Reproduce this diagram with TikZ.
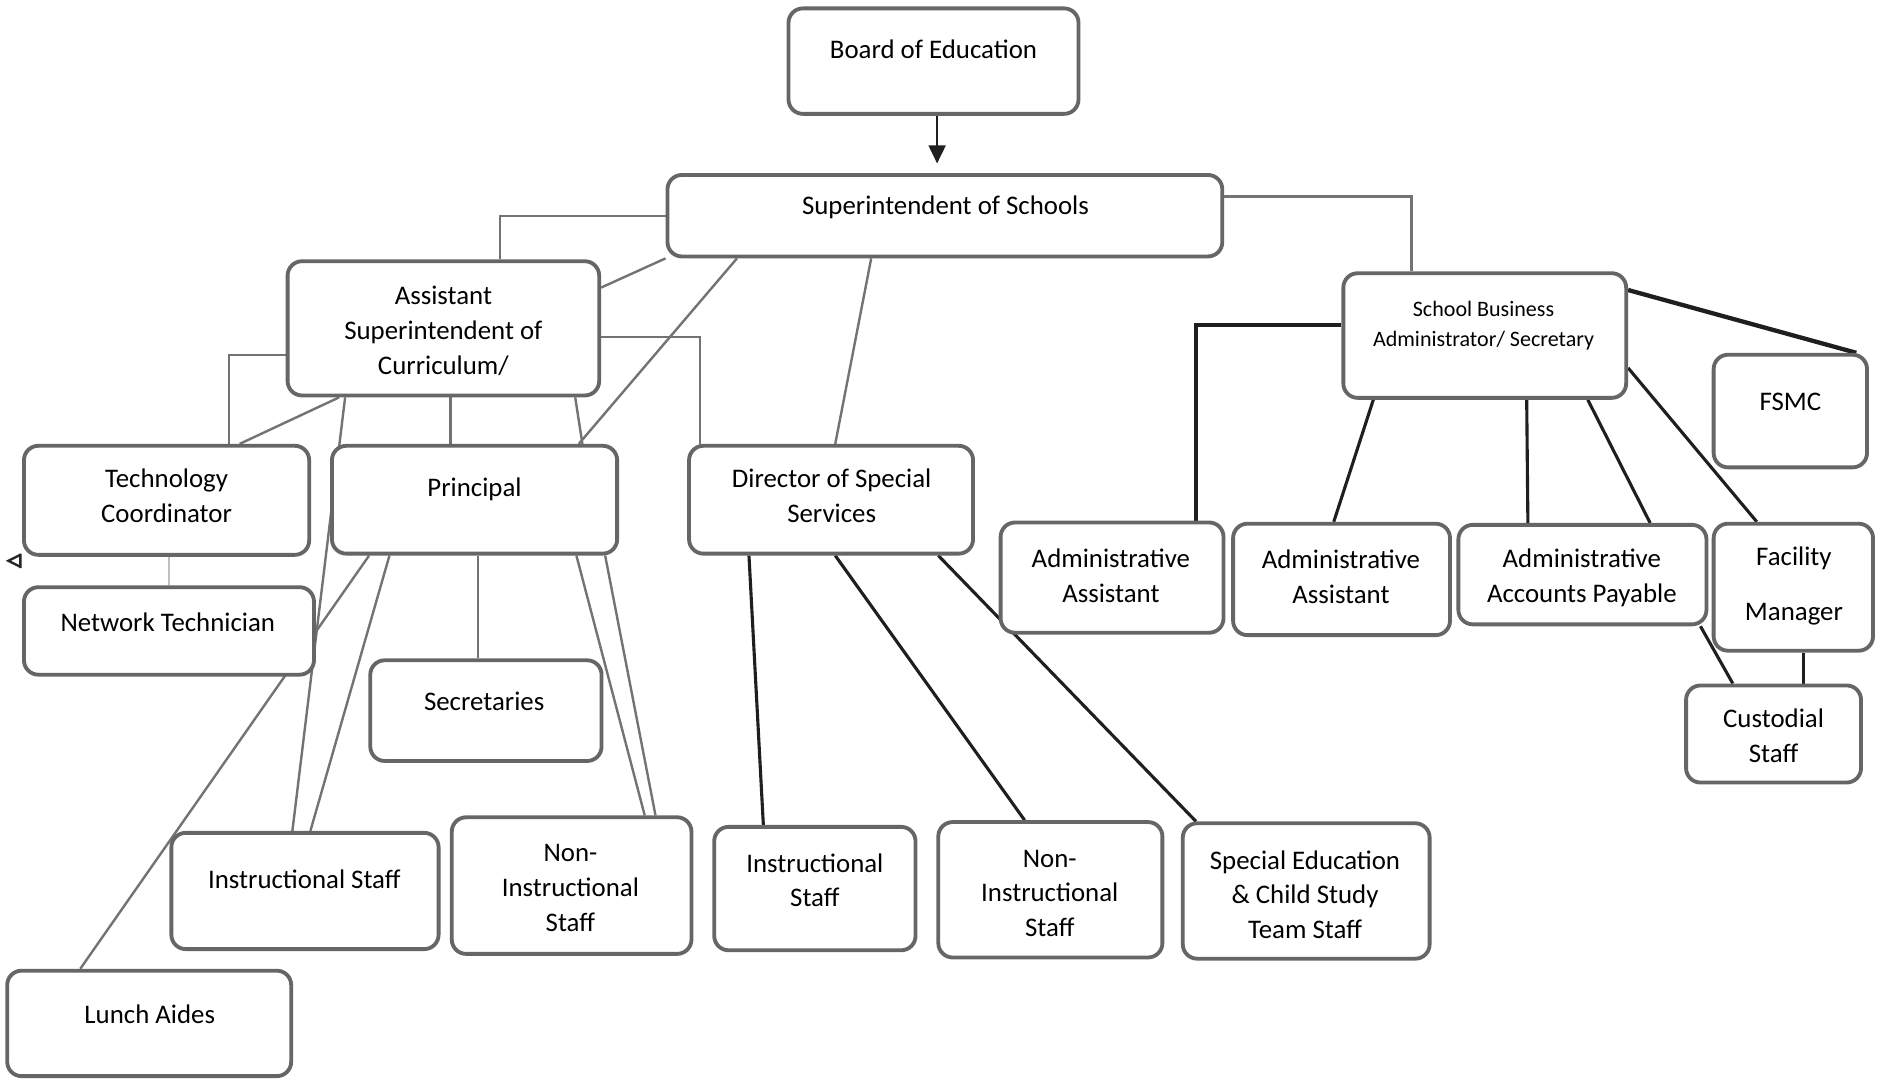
\documentclass[tikz,border=0pt]{standalone}
\usepackage{fontspec}
\setmainfont{Carlito}
\usetikzlibrary{arrows.meta}
\pgfdeclarelayer{bg}
\pgfsetlayers{bg,main}
\tikzset{
 box/.style={draw=black!60, line width=1.6pt, rounded corners=6pt, fill=white, inner sep=0pt},
 lbl/.style={align=center, font=\fontsize{11.2}{14.5}\selectfont, inner sep=0pt, text=black},
 smalltxt/.style={font=\fontsize{9.2}{12.5}\selectfont},
 gline/.style={draw=black!55, line width=1pt},
 kline/.style={draw=black!88, line width=1.3pt},
 lgline/.style={draw=black!25, line width=0.8pt},
}
\newcommand\mybox[5]{\node[box,minimum width={(#4-#2)*0.5pt},minimum height={(#5-#3)*0.5pt}] (#1) at ({(#2+#4)/2},{(#3+#5)/2}) {};}
\begin{document}
\begin{tikzpicture}[x=0.5pt,y=-0.5pt]
\path[use as bounding box] (0,0) rectangle (1568,900);
% boxes
\mybox{board}{658}{7}{900}{95}
\mybox{supt}{557}{146}{1020}{214}
\mybox{as}{240}{218}{500}{330}
\mybox{sba}{1121}{228}{1357}{332}
\mybox{fsmc}{1430}{296}{1558}{390}
\mybox{tc}{20}{372}{258}{463}
\mybox{pr}{277}{372}{515}{462}
\mybox{dir}{575}{372}{812}{462}
\mybox{aaone}{835}{436}{1021}{528}
\mybox{aatwo}{1029}{437}{1210}{530}
\mybox{aap}{1217}{438}{1424}{521}
\mybox{fm}{1430}{437}{1563}{543}
\mybox{nt}{20}{490}{262}{563}
\mybox{sec}{309}{551}{502}{635}
\mybox{cs}{1407}{572}{1553}{653}
\mybox{isl}{143}{695}{366}{792}
\mybox{nil}{377}{682}{577}{796}
\mybox{ism}{596}{690}{764}{793}
\mybox{nim}{783}{686}{970}{799}
\mybox{se}{987}{687}{1193}{800}
\mybox{la}{6}{810}{243}{898}
% labels
\node[lbl] (boardt) at (779,41) {Board of Education};
\node[lbl] (suptt) at (789,173) {Superintendent of Schools};
\node[lbl] (ast) at (370,276) {Assistant\\Superintendent of\\Curriculum/};
\node[lbl,smalltxt] (sbat) at (1238,271.5) {School Business\\Administrator/ Secretary};
\node[lbl] (fsmct) at (1494,335) {FSMC};
\node[lbl] (tct) at (139,414) {Technology\\Coordinator};
\node[lbl] (prt) at (396,408) {Principal};
\node[lbl] (dirt) at (694,414) {Director of Special\\Services};
\node[lbl] (aaonet) at (927,480.5) {Administrative\\Assistant};
\node[lbl] (aatwot) at (1119,481.5) {Administrative\\Assistant};
\node[lbl] (aapt) at (1320,482.5) {Administrative\\Accounts Payable};
\node[lbl] (fmt) at (1497,489) {Facility\\[8.5pt]Manager};
\node[lbl] (ntt) at (140,519) {Network Technician};
\node[lbl] (sect) at (404,585) {Secretaries};
\node[lbl] (cst) at (1480,614) {Custodial\\Staff};
\node[lbl] (islt) at (254,734) {Instructional Staff};
\node[lbl] (nilt) at (476,741) {Non-\\Instructional\\Staff};
\node[lbl] (ismt) at (680,734.5) {Instructional\\Staff};
\node[lbl] (nimt) at (876,745.5) {Non-\\Instructional\\Staff};
\node[lbl] (set) at (1089,746.5) {Special Education\\\& Child Study\\Team Staff};
\node[lbl] (lat) at (125,846) {Lunch Aides};
% connectors
\begin{pgfonlayer}{bg}
\fill[white] (0,0) rectangle (1568,900);
\draw[kline,line width=1pt,-{Triangle[length=7.5pt,width=7pt]},shorten >=4pt] (782,0 |- board.south) -- (782,0 |- supt.north);
\draw[gline] (supt.west |- 0,180) -| (417,0 |- as.north);
\draw[gline] (supt.south west) -- (as.east |- 0,240);
\draw[gline] (615,0 |- supt.south) -- (483,0 |- pr.north);
\draw[gline] (727,0 |- supt.south) -- (697,0 |- dir.north);
\draw[gline] (supt.east |- 0,164) -| (1178,0 |- sba.north);
\draw[gline] (as.west |- 0,296) -| (191,0 |- tc.north);
\draw[gline] (283,0 |- as.south) -- (200,0 |- tc.north);
\draw[gline] (376,0 |- as.south) -- (376,0 |- pr.north);
\draw[gline] (480,0 |- as.south) -- (486,0 |- pr.north);
\draw[gline] (as.east |- 0,281) -| (584,0 |- dir.north);
\draw[gline] (288,0 |- as.south) -- (244,0 |- isl.north);
\draw[lgline] (141,0 |- tc.south) -- (141,0 |- nt.north);
\draw[gline] (308,0 |- pr.south) -- (67,0 |- la.north);
\draw[gline] (325,0 |- pr.south) -- (259,0 |- isl.north);
\draw[gline] (399,0 |- pr.south) -- (399,0 |- sec.north);
\draw[gline] (481,0 |- pr.south) -- (538,0 |- nil.north);
\draw[gline] (505,0 |- pr.south) -- (547,0 |- nil.north);
\draw[kline] (625,0 |- dir.south) -- (637,0 |- ism.north);
\draw[kline] (697,0 |- dir.south) -- (855,0 |- nim.north);
\draw[kline] (783,0 |- dir.south) -- (998,0 |- se.north);
\draw[kline,line width=1.6pt] (sba.west |- 0,271) -| (998,0 |- aaone.north);
\draw[kline] (1146,0 |- sba.south) -- (1113,0 |- aatwo.north);
\draw[kline] (1274,0 |- sba.south) -- (1275,0 |- aap.north);
\draw[kline] (1325,0 |- sba.south) -- (1377,0 |- aap.north);
\draw[kline] (sba.east |- 0,307) -- (1466,0 |- fm.north);
\draw[kline,line width=1.8pt] (sba.east |- 0,242) -- (1549,0 |- fsmc.north);
\draw[kline] (1419,0 |- aap.south) -- (1446,0 |- cs.north);
\draw[kline,line width=1.6pt] (1505,0 |- fm.south) -- (1505,0 |- cs.north);
\end{pgfonlayer}
% stray mark at left edge
\draw[black!85,line width=1pt] (17,463) -- (7,468) -- (17,473) (17,462) -- (17,474);
\end{tikzpicture}
\end{document}
